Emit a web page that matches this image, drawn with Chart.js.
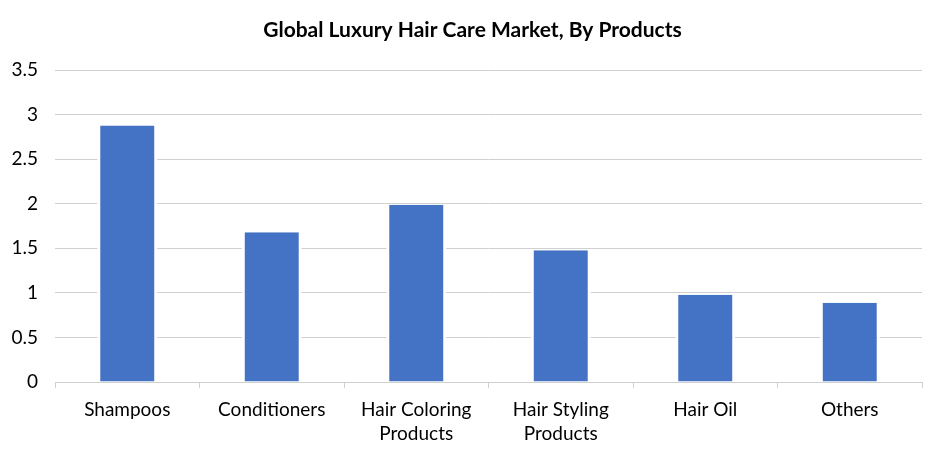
<!DOCTYPE html>
<html><head><meta charset="utf-8">
<script src="https://cdn.jsdelivr.net/npm/chart.js@4.4.0/dist/chart.umd.min.js"></script>
<style>html,body{margin:0;padding:0;background:#fff}#wrap{width:945px;height:460px}</style>
</head><body><div id="wrap"><canvas id="c" width="945" height="460"></canvas></div>
<script>
const categories = [["Shampoos"],["Conditioners"],["Hair Coloring","Products"],["Hair Styling","Products"],["Hair Oil"],["Others"]];
const values = [2.88, 1.68, 1.99, 1.48, 0.98, 0.89];
const yTicks = [0, 0.5, 1, 1.5, 2, 2.5, 3, 3.5];
const titleText = "Global Luxury Hair Care Market, By Products";
const titleFont = { family: 'Lato', size: 21, weight: 'bold', lineHeight: 1.2 };

const centeredTitle = {
  id: 'centeredTitle',
  afterDraw(chart) {
    const ctx = chart.ctx;
    ctx.save();
    ctx.font = 'bold 21px Lato';
    ctx.fillStyle = '#000';
    ctx.textAlign = 'center';
    ctx.textBaseline = 'middle';
    ctx.fillText(titleText, chart.width / 2, 18 + 21 * 1.2 / 2);
    ctx.restore();
  }
};

new Chart(document.getElementById('c'), {
  type: 'bar',
  data: { labels: categories, datasets: [{ data: values, backgroundColor: '#4472C4', borderColor: '#ffffff', borderWidth: { left: 3, right: 3, top: 0, bottom: 0 }, categoryPercentage: 0.75, barPercentage: 0.553 }] },
  plugins: [centeredTitle],
  options: {
    responsive: false, animation: false, devicePixelRatio: 1,
    layout: { padding: { left: 0, right: 23, top: 0, bottom: 0 } },
    plugins: {
      legend: { display: false }, tooltip: { enabled: false },
      title: { display: true, text: titleText, color: 'rgba(0,0,0,0)', font: titleFont, padding: { top: 18, bottom: 27 } }
    },
    scales: {
      x: {
        grid: { display: true, offset: true, drawOnChartArea: false, drawTicks: true, tickLength: 6, color: '#d0d0d0' },
        border: { display: true, color: '#d0d0d0' },
        ticks: { color: '#000', font: { family: 'Lato', size: 19, lineHeight: 1.27 }, padding: 10, maxRotation: 0, autoSkip: false },
        afterFit: s => { s.height = 78; }
      },
      y: {
        min: 0, max: 3.5,
        afterBuildTicks: s => { s.ticks = yTicks.map(v => ({ value: v })); },
        grid: { color: '#d0d0d0', drawTicks: false },
        border: { display: false },
        ticks: { color: '#000', font: { family: 'Lato', size: 19 }, padding: 17, callback: v => String(v) },
        afterFit: s => { s.width = 55; }
      }
    }
  }
});
</script></body></html>
